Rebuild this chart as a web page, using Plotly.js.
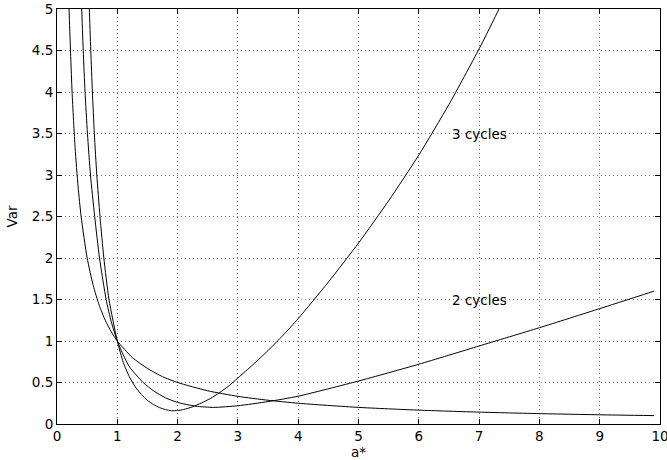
<!DOCTYPE html>
<html>
<head>
<meta charset="utf-8">
<script src="https://cdn.plot.ly/plotly-3.0.1.min.js"></script>
<style>html,body{margin:0;padding:0;background:#fff}#chart{width:667px;height:460px}</style>
</head>
<body>
<div id="chart"></div>
<script>
// 1 cycle (Var ~ 1/a*)
var x1 = [0.18, 0.2, 0.25, 0.3, 0.35, 0.4, 0.5, 0.6, 0.7, 0.8, 0.9, 1.0, 1.25, 1.5, 1.75, 2.0, 2.5, 3.0, 3.5, 4.0, 5.0, 6.0, 7.0, 8.0, 9.0, 9.9];
var y1 = [5.56, 5.0, 4.0, 3.33, 2.86, 2.5, 2.0, 1.67, 1.43, 1.25, 1.11, 1.0, 0.8, 0.67, 0.57, 0.5, 0.4, 0.333, 0.286, 0.25, 0.2, 0.167, 0.143, 0.125, 0.111, 0.101];

// 2 cycles
var x2 = [0.39, 0.41, 0.435, 0.465, 0.505, 0.555, 0.625, 0.705, 0.815, 0.9, 1.0, 1.1, 1.2, 1.43, 1.6, 1.8, 2.0, 2.3, 2.6, 3.0, 3.5, 4.0, 5.0, 6.0, 7.0, 8.0, 9.0, 9.9];
var y2 = [5.5, 5.0, 4.5, 4.0, 3.5, 3.0, 2.5, 2.0, 1.5, 1.23, 1.0, 0.83, 0.69, 0.5, 0.4, 0.315, 0.26, 0.215, 0.2, 0.22, 0.27, 0.335, 0.518, 0.72, 0.94, 1.16, 1.39, 1.6];

// 3 cycles
var x3 = [0.517, 0.536, 0.56, 0.587, 0.619, 0.66, 0.713, 0.777, 0.862, 1.0, 1.1, 1.2, 1.3, 1.4, 1.5, 1.6, 1.7, 1.8, 1.9, 2.0, 2.1, 2.24, 2.4, 2.55, 2.69, 2.85, 3.0, 3.25, 3.5, 3.75, 4.0, 4.5, 5.0, 5.5, 6.0, 6.5, 7.0, 7.33, 7.45];
var y3 = [5.45, 5.0, 4.5, 4.0, 3.5, 3.0, 2.5, 2.0, 1.5, 1.0, 0.74, 0.57, 0.445, 0.355, 0.285, 0.235, 0.198, 0.173, 0.16, 0.162, 0.175, 0.205, 0.255, 0.31, 0.375, 0.46, 0.555, 0.715, 0.885, 1.07, 1.27, 1.71, 2.18, 2.69, 3.24, 3.85, 4.52, 5.0, 5.2];

var xTicks = [0,1,2,3,4,5,6,7,8,9,10];
var yTicks = [0,0.5,1,1.5,2,2.5,3,3.5,4,4.5,5];
var yTickText = ['0','0.5','1','1.5','2','2.5','3','3.5','4','4.5','5'];

var labels = ['3 cycles', '2 cycles'];
var labelX = [6.52, 6.52];
var labelY = [3.5, 1.5];

var lineStyle = {color: '#000', width: 1, shape: 'spline', smoothing: 0.6};
var traces = [
  {x: x1, y: y1, mode: 'lines', line: lineStyle, hoverinfo: 'skip'},
  {x: x2, y: y2, mode: 'lines', line: lineStyle, hoverinfo: 'skip'},
  {x: x3, y: y3, mode: 'lines', line: lineStyle, hoverinfo: 'skip'}
];

var font = {family: 'DejaVu Sans, Liberation Sans, Arial, sans-serif', size: 13.5, color: '#000'};
var axisCommon = {
  showline: true, mirror: 'allticks', linecolor: '#000', linewidth: 1,
  ticks: 'inside', ticklen: 5, tickcolor: '#000', tickwidth: 1,
  showgrid: true, gridcolor: 'rgba(0,0,0,0.55)', griddash: '1px,3px', gridwidth: 1,
  zeroline: false, tickfont: font, fixedrange: true, ticklabeloverflow: 'allow'
};

var layout = {
  width: 667, height: 460,
  margin: {l: 57, r: 7, t: 9, b: 36},
  paper_bgcolor: '#fff', plot_bgcolor: '#fff',
  showlegend: false,
  font: font,
  xaxis: Object.assign({}, axisCommon, {
    range: [0, 10], tickvals: xTicks, ticktext: xTicks.map(String),
    title: {text: 'a*', font: font, standoff: 2}
  }),
  yaxis: Object.assign({}, axisCommon, {
    range: [0, 5], tickvals: yTicks, ticktext: yTickText,
    title: {text: 'Var', font: font, standoff: 11}
  }),
  annotations: labels.map(function (t, i) {
    return {x: labelX[i], y: labelY[i], xref: 'x', yref: 'y', text: t, showarrow: false,
            xanchor: 'left', yanchor: 'middle', font: font};
  })
};

Plotly.newPlot('chart', traces, layout, {staticPlot: true, displayModeBar: false});
</script>
</body>
</html>
